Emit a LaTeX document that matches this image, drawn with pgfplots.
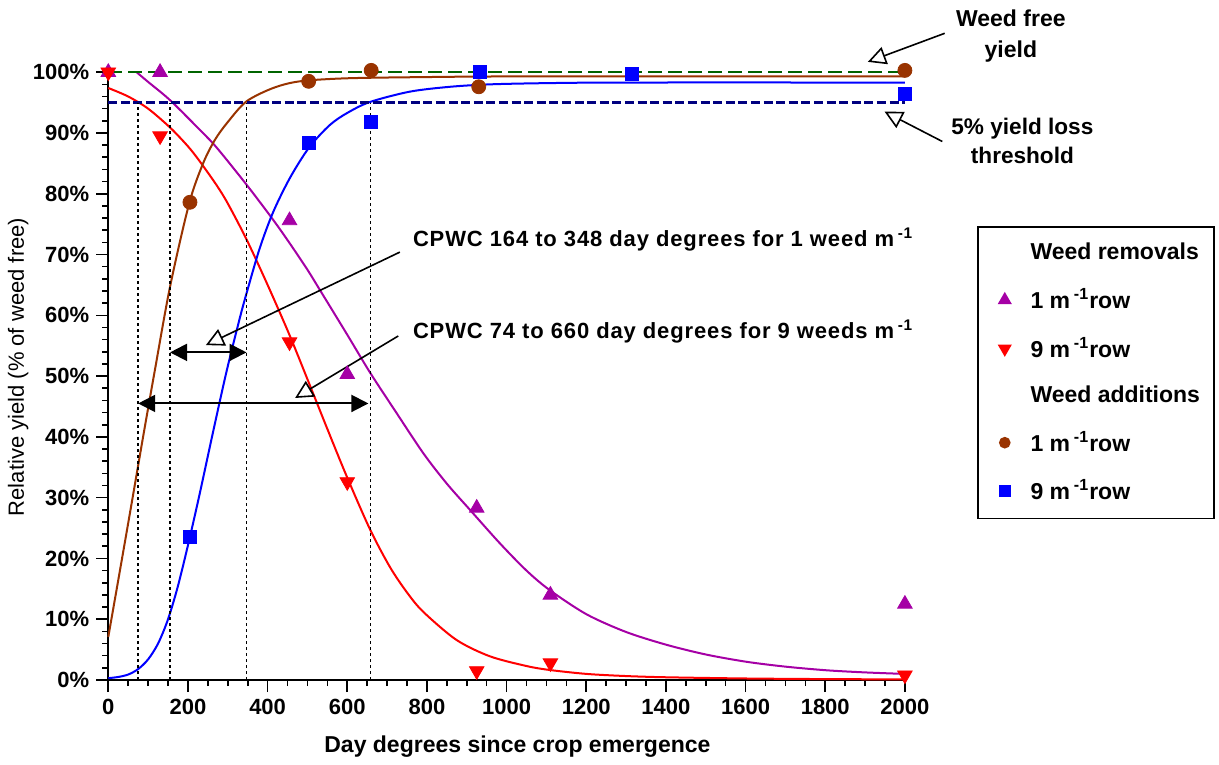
\documentclass[border=0pt]{standalone}
\usepackage{fontspec}
\setmainfont{Liberation Sans}
\newfontfamily\widefont{Liberation Sans}[LetterSpace=4]
\usepackage{pgfplots}
\pgfplotsset{compat=1.18}
\usetikzlibrary{arrows.meta}

\definecolor{cpurple}{RGB}{165,0,165}
\definecolor{cred}{RGB}{255,0,0}
\definecolor{cbrown}{RGB}{153,51,0}
\definecolor{cblue}{RGB}{0,0,255}
\definecolor{cgreen}{RGB}{0,100,0}
\definecolor{cnavy}{RGB}{0,0,128}

\begin{document}
\begin{tikzpicture}
\begin{axis}[
  name=ax,
  scale only axis,
  width=398.3pt, height=303.9pt,
  xmin=0, xmax=2000, ymin=0, ymax=100,
  axis x line=bottom, axis y line=left,
  axis line style={-, line width=1pt},
  tick align=outside,
  major tick length=6pt, minor tick length=3pt,
  every tick/.style={black, line width=0.8pt},
  xtick={0,200,...,2000}, minor x tick num=3,
  ytick={0,10,...,100}, minor y tick num=4,
  yticklabel={\pgfmathprintnumber{\tick}\%},
  ticklabel style={font=\fontsize{11}{13}\selectfont\bfseries},
  /pgf/number format/assume math mode=true,
  /pgf/number format/1000 sep={},
  xlabel={Day degrees since crop emergence},
  ylabel={Relative yield (\% of weed free)},
  xlabel style={font=\fontsize{11.5}{13}\selectfont\bfseries, at={(axis description cs:0.5136,-0.11)}, anchor=center},
  ylabel style={font=\fontsize{11}{12}\selectfont, at={(axis description cs:-0.113,0.515)}, anchor=center},
  clip=false,
  legend style={at={(axis description cs:1.0904,0.7463)}, anchor=north west,
    draw=black, line width=0.8pt, font=\fontsize{11.5}{13}\selectfont\bfseries,
    row sep=8.9pt, inner xsep=5pt, inner ysep=6pt, column sep=8pt},
  legend cell align=left,
]
% fitted curves
\addplot[forget plot, cred, line width=1pt, smooth] coordinates {
  (0,97.4)(50,96.0)(100,94.0)(155,90.9)(200,87.8)(230,85.3)(272,81.4)(300,78.4)
  (347,72.5)(400,65.0)(456,56.6)(506,48.5)(550,41.3)(598,33.6)(657,24.8)(707,18.6)
  (750,14.4)(791,11.2)(874,6.6)(958,3.9)(1050,2.3)(1108,1.65)(1201,1.0)(1300,0.65)
  (1401,0.45)(1600,0.25)(1800,0.15)(2000,0.1)
};
\addplot[forget plot, cpurple, line width=1pt, smooth] coordinates {
  (71,100)(100,98.4)(155,95.4)(230,90.5)(272,87.6)(347,81.5)(414,75.7)(456,71.8)
  (500,67.5)(531,64.2)(600,56.8)(657,50.6)(720,44.3)(791,37.3)(850,32.3)(908,28.0)
  (983,22.5)(1050,18.0)(1108,14.8)(1201,10.8)(1300,7.9)(1401,5.8)(1500,4.2)
  (1602,3.0)(1700,2.2)(1803,1.6)(1900,1.25)(2000,1.0)
};
\addplot[forget plot, cbrown, line width=1pt, smooth] coordinates {
  (0,7.1)(30,18.3)(60,29.6)(90,41.0)(117,51.0)(155,64.7)(203,78.4)(238,85.0)
  (268,88.9)(300,91.8)(347,95.2)(414,97.4)(481,98.5)(600,99.0)(800,99.2)
  (1000,99.3)(1500,99.3)(2000,99.3)
};
\addplot[forget plot, cblue, line width=1pt, smooth] coordinates {
  (0,0.3)(25,0.5)(50,0.9)(75,1.8)(100,3.4)(125,6.0)(150,10.0)(175,15.5)(203,23.0)
  (230,30.8)(263,40.8)(297,50.8)(330,59.5)(347,63.6)(380,71.0)(414,77.0)(456,82.6)
  (504,87.6)(556,91.3)(600,93.3)(657,95.1)(757,96.8)(858,97.6)(958,98.0)
  (1100,98.2)(1300,98.3)(2000,98.3)
};
% reference lines
\addplot[forget plot, cgreen, line width=0.8pt, dash pattern=on 7pt off 3pt] coordinates {(0,100)(2000,100)};
\addplot[forget plot, cnavy, line width=1.2pt, dash pattern=on 4.5pt off 1.8pt] coordinates {(0,95)(2000,95)};
\addplot[forget plot, black, line width=0.8pt, dash pattern=on 1.5pt off 1.5pt] coordinates {(74,0)(74,95)};
\addplot[forget plot, black, line width=0.8pt, dash pattern=on 1.5pt off 1.5pt] coordinates {(155,0)(155,95)};
\addplot[forget plot, black, line width=0.8pt, dash pattern=on 1.5pt off 1.5pt] coordinates {(347,0)(347,95)};
\addplot[forget plot, black, line width=0.8pt, dash pattern=on 1.5pt off 1.5pt] coordinates {(658,0)(658,95)};

% observed data
\addplot[forget plot, only marks, mark=triangle*, color=cpurple, mark size=4.2pt] coordinates {
  (0,100)(130,100)(455,75.6)(600,50.3)(925,28.3)(1110,14.0)(2000,12.5)
};
\addplot[forget plot, only marks, mark=triangle*, mark options={rotate=180}, color=cred, mark size=4.2pt] coordinates {
  (0,100)(130,89.5)(455,55.6)(600,32.6)(925,1.5)(1110,2.8)(2000,0.8)
};
\addplot[forget plot, only marks, mark=*, color=cbrown, mark size=3.5pt] coordinates {
  (205,78.6)(503,98.5)(660,100.3)(930,97.6)(2000,100.3)
};
\addplot[forget plot, only marks, mark=square*, color=cblue, mark size=3.2pt] coordinates {
  (205,23.6)(504,88.4)(659,91.8)(932,100)(1315,99.7)(2000,96.4)
};

% legend
\addlegendimage{empty legend}
\addlegendentry{Weed removals}
\addlegendimage{only marks, mark=triangle*, color=cpurple, mark size=3.3pt}
\addlegendentry{1 m\,\textsuperscript{-1}row}
\addlegendimage{only marks, mark=triangle*, mark options={rotate=180}, color=cred, mark size=3.3pt}
\addlegendentry{9 m\,\textsuperscript{-1}row}
\addlegendimage{empty legend}
\addlegendentry{Weed additions}
\addlegendimage{only marks, mark=*, color=cbrown, mark size=2.5pt}
\addlegendentry{1 m\,\textsuperscript{-1}row}
\addlegendimage{only marks, mark=square*, color=cblue, mark size=2.5pt}
\addlegendentry{9 m\,\textsuperscript{-1}row}

% annotations
\draw[{Triangle[length=8.5pt,width=8.5pt]}-{Triangle[length=8.5pt,width=8.5pt]}, line width=1pt]
  (axis cs:155,53.9) -- (axis cs:347,53.9);
\draw[{Triangle[length=8.5pt,width=8.5pt]}-{Triangle[length=8.5pt,width=8.5pt]}, line width=1pt]
  (axis cs:75,45.5) -- (axis cs:653,45.5);
\draw[-{Triangle[open,length=9pt,width=9pt]}, line width=0.8pt] (axis cs:732,70.4) -- (axis cs:245,55.1);
\draw[-{Triangle[open,length=9pt,width=9pt]}, line width=0.8pt] (axis cs:728,56.6) -- (axis cs:469,46.4);
\draw[-{Triangle[open,length=9pt,width=9pt]}, line width=0.8pt] (axis cs:2100,106.4) -- (axis cs:1907,101.7);
\draw[-{Triangle[open,length=9pt,width=9pt]}, line width=0.8pt] (axis cs:2094,88.6) -- (axis cs:1949,93.5);
\node[anchor=west, inner sep=0pt, font=\widefont\fontsize{11}{12}\selectfont\bfseries] at (axis cs:764,72.4)
  {CPWC 164 to 348 day degrees for 1 weed m\,\textsuperscript{-1}};
\node[anchor=west, inner sep=0pt, font=\widefont\fontsize{11}{12}\selectfont\bfseries] at (axis cs:764,57.3)
  {CPWC 74 to 660 day degrees for 9 weeds m\,\textsuperscript{-1}};
\node[align=center, inner sep=0pt, font=\fontsize{11.5}{15.5}\selectfont\bfseries] at (axis cs:2266,106.0)
  {Weed free\\yield};
\node[align=center, inner sep=0pt, font=\fontsize{11.3}{14.5}\selectfont\bfseries] at (axis cs:2295,88.7)
  {5\% yield loss\\threshold};
\end{axis}
\path[shift={(ax.south west)}] (-54.15pt,-42pt) rectangle (555.35pt,340pt);
\end{tikzpicture}
\end{document}
